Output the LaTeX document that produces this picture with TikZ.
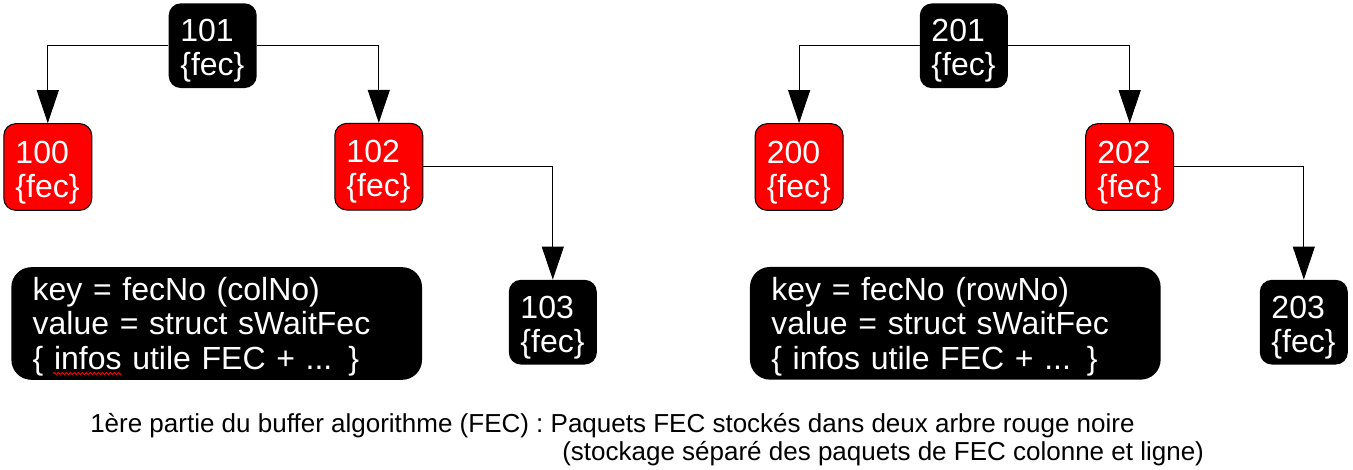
\documentclass[tikz,border=0pt]{standalone}
\usepackage{fontspec}
\setmainfont{Liberation Sans}
\usetikzlibrary{arrows.meta,decorations.pathmorphing}
\begin{document}
\begin{tikzpicture}[x=0.75pt,y=-0.75pt,
  fecbox/.style={rounded corners=9pt, text=white, align=left, text width=48.5pt,
    inner xsep=0pt, inner ysep=0pt, font=\fontsize{24pt}{25.5pt}\selectfont,
    execute at begin node={\rule{0pt}{24.5pt}}},
  blackbox/.style={fecbox, fill=black, minimum width=66pt, minimum height=63.5pt},
  redbox/.style={fecbox, fill=red, draw=black, line width=0.75pt, minimum width=66pt, minimum height=65pt},
  keybox/.style={rounded corners=15pt, fill=black, text=white, align=left, text width=276pt,
    inner xsep=16pt, inner ysep=0pt, minimum height=84.5pt, font=\fontsize{24pt}{25.8pt}\selectfont,
    execute at begin node={\rule{0pt}{22pt}}},
  link/.style={line width=0.75pt, -{Triangle[width=16.5pt,length=24.75pt]}},
  caption/.style={anchor=base west, inner sep=0pt, font=\fontsize{19.5pt}{22.5pt}\selectfont}
]
\useasboundingbox (0,0) rectangle (1353,470);
% left tree
\node[blackbox] (n101) at (212.7,45.7) {101\\\{fec\}};
\node[redbox]   (n100) at (47.8,167)   {100\\\{fec\}};
\node[redbox]   (n102) at (378.8,166.7) {102\\\{fec\}};
\node[blackbox] (n103) at (552.8,322.2) {103\\\{fec\}};
\node[keybox]   (k1) at (216.7,323.5) {key = fecNo (colNo)\\value = struct sWaitFec\\\{ infos utile FEC + ... \}};
\draw[link] (n101.west) -| (n100.north);
\draw[link] (n101.east) -| (n102.north);
\draw[link] (n102.east) -| (n103.north);
\draw[red, line width=0.6pt, decorate, decoration={snake, amplitude=0.8pt, segment length=3pt}] (53,373.5) -- (121.5,373.5);
% right tree
\node[blackbox] (n201) at (963.8,45.8) {201\\\{fec\}};
\node[redbox]   (n200) at (799.1,167)  {200\\\{fec\}};
\node[redbox]   (n202) at (1129.7,167) {202\\\{fec\}};
\node[blackbox] (n203) at (1303.8,322.2) {203\\\{fec\}};
\node[keybox]   (k2) at (955.3,323.3) {key = fecNo (rowNo)\\value = struct sWaitFec\\\{ infos utile FEC + ... \}};
\draw[link] (n201.west) -| (n200.north);
\draw[link] (n201.east) -| (n202.north);
\draw[link] (n202.east) -| (n203.north);
% caption
\node[caption] (cap1) at (90,432) {1ère partie du buffer algorithme (FEC) : Paquets FEC stockés dans deux arbre rouge noire};
\node[caption] (cap2) at (562,460) {(stockage séparé des paquets de FEC colonne et ligne)};
\end{tikzpicture}
\end{document}
